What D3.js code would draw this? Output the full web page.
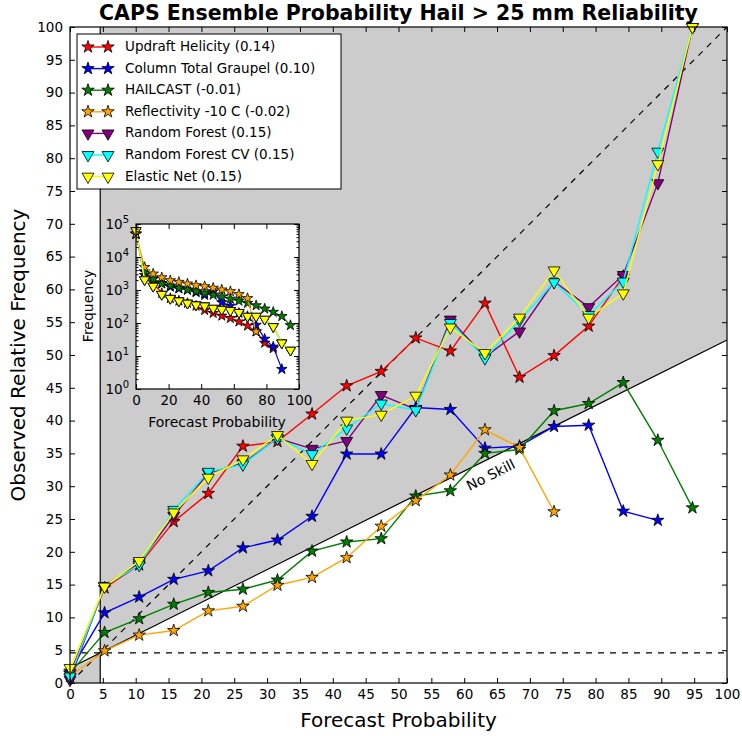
<!DOCTYPE html>
<html>
<head>
<meta charset="utf-8">
<script src="https://cdn.jsdelivr.net/npm/d3@7/dist/d3.min.js"></script>
<style>
    body { margin: 0; background: #fff; }
    svg { font-family: "DejaVu Sans", sans-serif; }
</style>
</head>
<body>
<svg id="chart"></svg>
<script>
let W = 742;
let H = 736;

// forecast probability bins (%)
let probs = [0, 5.26, 10.53, 15.79, 21.05, 26.32, 31.58, 36.84, 42.11, 47.37, 52.63, 57.89, 63.16, 68.42, 73.68, 78.95, 84.21, 89.47, 94.74];

// observed relative frequency (%) per bin
let uhObs = [1.5, 14.5, 18.0, 24.6, 28.9, 36.1, 36.8, 41.0, 45.3, 47.5, 52.6, 50.6, 57.9, 46.6, 49.9, 54.4, 62.0];
let graupelObs = [1.8, 10.7, 13.1, 15.8, 17.1, 20.6, 21.8, 25.4, 34.9, 34.9, 42.0, 41.7, 35.8, 36.1, 39.1, 39.3, 26.2, 24.8];
let hailcastObs = [1.5, 7.7, 9.8, 12.0, 13.8, 14.3, 15.7, 20.1, 21.5, 22.0, 28.5, 29.3, 35.0, 35.6, 41.5, 42.6, 45.8, 37.0, 26.7];
let reflObs = [1.0, 4.9, 7.3, 8.0, 11.0, 11.7, 14.9, 16.1, 19.1, 23.9, 27.8, 31.7, 38.6, 35.9, 26.1];
let rfObs = [0.5, 14.8, 18.3, 25.5, 32.0, 33.5, 37.3, 35.7, 36.9, 43.9, 41.7, 55.4, 49.7, 53.6, 61.2, 57.3, 62.2, 76.2, 100];
let rfcvObs = [1.0, 14.8, 18.0, 26.4, 32.2, 33.3, 37.3, 34.9, 38.8, 42.6, 41.6, 54.9, 49.5, 55.3, 61.1, 56.1, 61.2, 81.0, 100];
let enObs = [2.3, 14.7, 18.6, 26.0, 31.3, 34.1, 37.8, 33.4, 40.0, 40.9, 43.8, 54.2, 50.3, 55.7, 62.9, 55.7, 59.4, 79.1, 100];

// forecast counts per bin (inset)
let uhFreq = [50000, 2800, 1700, 800, 560, 470, 400, 330, 245, 200, 165, 140, 110, 82, 55, 25, 17];
let graupelFreq = [50000, 3600, 2200, 1600, 1250, 1100, 1000, 850, 700, 900, 420, 330, 200, 160, 87, 33, 19, 4];
let hailcastFreq = [50000, 3550, 2140, 1550, 1350, 1150, 1020, 910, 800, 710, 630, 540, 470, 400, 340, 270, 215, 160, 85];
let reflFreq = [50000, 4900, 3100, 2400, 1950, 1740, 1550, 1380, 1290, 1150, 1020, 910, 740, 560, 55];
let rfFreq = [63000, 2050, 1300, 740, 560, 470, 400, 355, 330, 280, 260, 240, 210, 160, 160, 130, 78, 25, 15];
let rfcvFreq = [63000, 2050, 1300, 740, 560, 470, 400, 355, 330, 280, 260, 240, 210, 160, 160, 130, 78, 25, 15];
let enFreq = [63000, 2050, 1300, 740, 560, 470, 400, 355, 330, 280, 260, 240, 210, 160, 160, 130, 78, 25, 15];

let names = ["Updraft Helicity (0.14)", "Column Total Graupel (0.10)", "HAILCAST (-0.01)",
    "Reflectivity -10 C (-0.02)", "Random Forest (0.15)", "Random Forest CV (0.15)", "Elastic Net (0.15)"];
let colors = ["red", "blue", "green", "orange", "purple", "cyan", "yellow"];
let shapes = ["star", "star", "star", "star", "tri", "tri", "tri"];

let climo = 4.6;
let ticks5 = [0, 5, 10, 15, 20, 25, 30, 35, 40, 45, 50, 55, 60, 65, 70, 75, 80, 85, 90, 95, 100];

let series = [];
let obsList = [uhObs, graupelObs, hailcastObs, reflObs, rfObs, rfcvObs, enObs];
let freqList = [uhFreq, graupelFreq, hailcastFreq, reflFreq, rfFreq, rfcvFreq, enFreq];
for (let i = 0; i < names.length; i++) {
    series.push({
        name: names[i], color: colors[i], shape: shapes[i],
        obs: obsList[i].map(function (v, j) { return {x: probs[j], y: v}; }),
        freq: freqList[i].map(function (v, j) { return {x: probs[j], y: v}; })
    });
}

let svg = d3.select("#chart").attr("width", W).attr("height", H);

let m = {left: 70, right: 15, top: 27, bottom: 53};
let x = d3.scaleLinear().domain([0, 100]).range([m.left, W - m.right]);
let y = d3.scaleLinear().domain([0, 100]).range([H - m.bottom, m.top]);

function marker(g, shape, color, big) {
    if (shape === "star") {
        g.append("path")
            .attr("d", d3.symbol().type(d3.symbolStar).size(big ? 48 : 34)())
            .attr("fill", color).attr("stroke", "black").attr("stroke-width", 0.8);
    } else {
        g.append("path")
            .attr("d", d3.symbol().type(d3.symbolTriangle).size(big ? 62 : 44)())
            .attr("transform", "rotate(180)")
            .attr("fill", color).attr("stroke", "black").attr("stroke-width", 0.8);
    }
}

// skill region shading
let noSkill = function (p) { return (p + climo) / 2; };
let area = svg.append("g");
area.append("path")
    .attr("d", d3.line()([[x(climo), y(climo)], [x(100), y(noSkill(100))], [x(100), y(100)], [x(climo), y(100)]]))
    .attr("fill", "#cccccc");
area.append("path")
    .attr("d", d3.line()([[x(0), y(0)], [x(0), y(noSkill(0))], [x(climo), y(climo)], [x(climo), y(0)]]))
    .attr("fill", "#cccccc");

// reference lines
svg.append("line").attr("x1", x(0)).attr("y1", y(noSkill(0))).attr("x2", x(100)).attr("y2", y(noSkill(100)))
    .attr("stroke", "black").attr("stroke-width", 1.2);
svg.append("line").attr("x1", x(climo)).attr("y1", y(0)).attr("x2", x(climo)).attr("y2", y(100))
    .attr("stroke", "black").attr("stroke-width", 1.2);
svg.append("line").attr("x1", x(0)).attr("y1", y(climo)).attr("x2", x(100)).attr("y2", y(climo))
    .attr("stroke", "black").attr("stroke-width", 1.2).attr("stroke-dasharray", "6,6");
svg.append("line").attr("x1", x(0)).attr("y1", y(0)).attr("x2", x(100)).attr("y2", y(100))
    .attr("stroke", "black").attr("stroke-width", 1.2).attr("stroke-dasharray", "6,6");

svg.append("text")
    .attr("transform", "translate(" + x(64.1) + "," + y(31.6) + ") rotate(-26.6)")
    .attr("text-anchor", "middle").attr("dominant-baseline", "middle")
    .attr("font-size", 14).text("No Skill");

// series
let line = d3.line().x(function (d) { return x(d.x); }).y(function (d) { return y(d.y); });
series.forEach(function (s) {
    let g = svg.append("g");
    g.append("path").datum(s.obs).attr("d", line)
        .attr("fill", "none").attr("stroke", s.color).attr("stroke-width", 1.4);
    g.selectAll("g.pt").data(s.obs).enter().append("g")
        .attr("transform", function (d) { return "translate(" + x(d.x) + "," + y(d.y) + ")"; })
        .each(function () { marker(d3.select(this), s.shape, s.color, true); });
});

// axes
let ax = svg.append("g");
ax.append("g").attr("transform", "translate(0," + y(0) + ")")
    .call(d3.axisBottom(x).tickValues(ticks5).tickSize(-5).tickPadding(6));
ax.append("g").attr("transform", "translate(" + x(0) + ",0)")
    .call(d3.axisLeft(y).tickValues(ticks5).tickSize(-5).tickPadding(7));
ax.append("g").attr("transform", "translate(0," + y(100) + ")")
    .call(d3.axisTop(x).tickValues(ticks5).tickSize(-5).tickFormat(""));
ax.append("g").attr("transform", "translate(" + x(100) + ",0)")
    .call(d3.axisRight(y).tickValues(ticks5).tickSize(-5).tickFormat(""));
ax.selectAll(".domain").remove();
ax.selectAll("text").attr("font-family", "DejaVu Sans").attr("font-size", 13.5).attr("fill", "black");
svg.append("rect").attr("x", x(0)).attr("y", y(100)).attr("width", x(100) - x(0)).attr("height", y(0) - y(100))
    .attr("fill", "none").attr("stroke", "black").attr("stroke-width", 1.2);

svg.append("text").attr("x", (x(0) + x(100)) / 2).attr("y", 727).attr("text-anchor", "middle")
    .attr("font-size", 20).text("Forecast Probability");
svg.append("text").attr("transform", "translate(25," + (y(0) + y(100)) / 2 + ") rotate(-90)")
    .attr("text-anchor", "middle").attr("font-size", 20).text("Observed Relative Frequency");
svg.append("text").attr("x", (x(0) + x(100)) / 2).attr("y", 20).attr("text-anchor", "middle")
    .attr("font-size", 20.5).attr("font-weight", "bold").text("CAPS Ensemble Probability Hail > 25 mm Reliability");

// legend
let leg = svg.append("g");
leg.append("rect").attr("x", 77).attr("y", 34).attr("width", 264).attr("height", 155)
    .attr("fill", "white").attr("stroke", "black").attr("stroke-width", 1);
series.forEach(function (s, i) {
    let ly = 47 + i * 21.6;
    leg.append("line").attr("x1", 88).attr("x2", 108).attr("y1", ly).attr("y2", ly)
        .attr("stroke", s.color).attr("stroke-width", 1.4);
    [88, 108].forEach(function (lx) {
        let g = leg.append("g").attr("transform", "translate(" + lx + "," + ly + ")");
        marker(g, s.shape, s.color, true);
    });
    leg.append("text").attr("x", 125).attr("y", ly).attr("dominant-baseline", "middle")
        .attr("font-size", 13.5).text(s.name);
});

// inset: forecast frequency
let ix = d3.scaleLinear().domain([0, 100]).range([136, 299]);
let iy = d3.scaleLog().domain([1, 100000]).range([389, 224]);
let inset = svg.append("g");
inset.append("rect").attr("x", 136).attr("y", 224).attr("width", 163).attr("height", 165).attr("fill", "white");
let iline = d3.line().x(function (d) { return ix(d.x); }).y(function (d) { return iy(d.y); });
series.forEach(function (s) {
    let g = inset.append("g");
    g.append("path").datum(s.freq).attr("d", iline)
        .attr("fill", "none").attr("stroke", s.color).attr("stroke-width", 1.2);
    g.selectAll("g.pt").data(s.freq).enter().append("g")
        .attr("transform", function (d) { return "translate(" + ix(d.x) + "," + iy(d.y) + ")"; })
        .each(function () { marker(d3.select(this), s.shape, s.color, false); });
});

let decades = [1, 10, 100, 1000, 10000, 100000];
let minors = [];
decades.slice(0, 5).forEach(function (d) {
    for (let k = 2; k < 10; k++) minors.push(d * k);
});
let iax = inset.append("g");
iax.append("g").attr("transform", "translate(0,389)")
    .call(d3.axisBottom(ix).tickValues([0, 20, 40, 60, 80, 100]).tickSize(-5).tickPadding(6));
iax.append("g").attr("transform", "translate(0,224)")
    .call(d3.axisTop(ix).tickValues([0, 20, 40, 60, 80, 100]).tickSize(-5).tickFormat(""));
iax.append("g").attr("transform", "translate(136,0)")
    .call(d3.axisLeft(iy).tickValues(decades).tickSize(-5).tickFormat(""));
iax.append("g").attr("transform", "translate(136,0)")
    .call(d3.axisLeft(iy).tickValues(minors).tickSize(-2.5).tickFormat(""));
iax.append("g").attr("transform", "translate(299,0)")
    .call(d3.axisRight(iy).tickValues(decades).tickSize(-5).tickFormat(""));
iax.append("g").attr("transform", "translate(299,0)")
    .call(d3.axisRight(iy).tickValues(minors).tickSize(-2.5).tickFormat(""));
iax.selectAll(".domain").remove();
iax.selectAll("text").attr("font-family", "DejaVu Sans").attr("font-size", 13.5).attr("fill", "black");

decades.forEach(function (d, i) {
    let t = inset.append("text").attr("x", 129).attr("y", iy(d) + 5).attr("text-anchor", "end").attr("font-size", 13.5);
    t.append("tspan").text("10");
    t.append("tspan").attr("dy", -6).attr("font-size", 10).text(i);
});
inset.append("rect").attr("x", 136).attr("y", 224).attr("width", 163).attr("height", 165)
    .attr("fill", "none").attr("stroke", "black").attr("stroke-width", 1.2);
inset.append("text").attr("x", 217).attr("y", 427).attr("text-anchor", "middle")
    .attr("font-size", 14).text("Forecast Probability");
inset.append("text").attr("transform", "translate(93,306) rotate(-90)")
    .attr("text-anchor", "middle").attr("font-size", 14).text("Frequency");
</script>
</body>
</html>
